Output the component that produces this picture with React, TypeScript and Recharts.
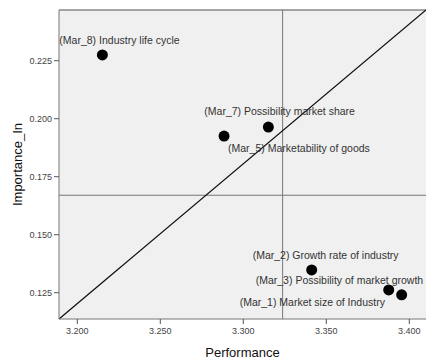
import React from 'react';
import {
  ScatterChart,
  Scatter,
  XAxis,
  YAxis,
  CartesianGrid,
  ReferenceLine,
  LabelList,
} from 'recharts';

const codes = ['Mar_8', 'Mar_7', 'Mar_5', 'Mar_2', 'Mar_3', 'Mar_1'];
const names = [
  'Industry life cycle',
  'Possibility market share',
  'Marketability of goods',
  'Growth rate of industry',
  'Possibility of market growth',
  'Market size of Industry',
];
const performance = [3.2151, 3.3151, 3.2884, 3.3412, 3.3876, 3.3954];
const importance = [0.2275, 0.1964, 0.1925, 0.1348, 0.1262, 0.1241];

const xTicks = [3.2, 3.25, 3.3, 3.35, 3.4];
const yTicks = [0.125, 0.15, 0.175, 0.2, 0.225];
const xDomain: [number, number] = [3.18898, 3.41006];
const yDomain: [number, number] = [0.11366, 0.24685];
const perfMean = 3.3237;
const impMean = 0.167;

const data = codes.map((c, i) => ({
  code: c,
  label: `(${c}) ${names[i]}`,
  x: performance[i],
  y: importance[i],
}));

// label placement (style): offset of label start / vertical center from point
const labelOffsets: Record<string, [number, number]> = {
  Mar_8: [-43, -15],
  Mar_7: [-64, -16],
  Mar_5: [4, 12],
  Mar_2: [-59, -15],
  Mar_3: [-133, -10],
  Mar_1: [-162, 8],
};

const PointLabel = (props: any) => {
  const { value, index } = props;
  const vb = props.viewBox || {};
  const bx = vb.x ?? props.x;
  const by = vb.y ?? props.y;
  const w = vb.width ?? props.width ?? 0;
  const h = vb.height ?? props.height ?? 0;
  const cx = bx + w / 2;
  const cy = by + h / 2;
  const code = data[index]?.code;
  const off = labelOffsets[code] || [0, -12];
  return (
    <text
      x={cx + off[0]}
      y={cy + off[1]}
      dy="0.35em"
      textAnchor="start"
      fontSize={10.5}
      fill="#333"
      fontFamily="Arial, 'Liberation Sans', sans-serif"
    >
      {value}
    </text>
  );
};

const Dot = (props: any) => {
  const { cx, cy } = props;
  return <circle cx={cx} cy={cy} r={5.5} fill="#000" />;
};

const YTitle = (props: any) => {
  const vb = props.viewBox || {};
  const cx = 17;
  const cy = (vb.y ?? 10) + (vb.height ?? 309) / 2;
  return (
    <text
      x={cx}
      y={cy}
      dy="0.35em"
      textAnchor="middle"
      transform={`rotate(-90 ${cx} ${cy})`}
      fontSize={13}
      fill="#111"
      fontFamily="Arial, 'Liberation Sans', sans-serif"
    >
      Importance_In
    </text>
  );
};

const XTitle = (props: any) => {
  const vb = props.viewBox || {};
  const cx = (vb.x ?? 59) + (vb.width ?? 367) / 2;
  const cy = 352;
  return (
    <text
      x={cx}
      y={cy}
      dy="0.35em"
      textAnchor="middle"
      fontSize={13}
      fill="#111"
      fontFamily="Arial, 'Liberation Sans', sans-serif"
    >
      Performance
    </text>
  );
};

export default function App() {
  const tickStyle = {
    fontSize: 9,
    fill: '#444',
    fontFamily: "Arial, 'Liberation Sans', sans-serif",
  };
  return (
    <div style={{ position: 'absolute', left: 0, top: 0 }}>
      <ScatterChart
        width={426}
        height={360}
        margin={{ top: 10, right: 0, bottom: 0, left: 0 }}
      >
        <CartesianGrid horizontal={false} vertical={false} fill="#f0f0f0" />
        <XAxis
          type="number"
          dataKey="x"
          domain={xDomain}
          ticks={xTicks}
          allowDataOverflow
          tickFormatter={(v: number) => v.toFixed(3)}
          tick={tickStyle}
          tickSize={5}
          tickMargin={4}
          height={41}
          stroke="#777"
          tickLine={{ stroke: '#555' }}
          label={<XTitle />}
        />
        <YAxis
          type="number"
          dataKey="y"
          domain={yDomain}
          ticks={yTicks}
          allowDataOverflow
          tickFormatter={(v: number) => v.toFixed(3)}
          tick={tickStyle}
          tickSize={5}
          tickMargin={2}
          width={59}
          stroke="#777"
          tickLine={{ stroke: '#555' }}
          label={<YTitle />}
        />
        <ReferenceLine y={yDomain[1]} stroke="#888" strokeWidth={1.5} />
        <ReferenceLine x={perfMean} stroke="#777" strokeWidth={1} />
        <ReferenceLine y={impMean} stroke="#777" strokeWidth={1} />
        <ReferenceLine
          segment={[
            { x: xDomain[0], y: yDomain[0] },
            { x: xDomain[1], y: yDomain[1] },
          ]}
          stroke="#111"
          strokeWidth={1.2}
          ifOverflow="visible"
        />
        <Scatter data={data} shape={<Dot />} isAnimationActive={false}>
          <LabelList dataKey="label" content={<PointLabel />} />
        </Scatter>
      </ScatterChart>
    </div>
  );
}
